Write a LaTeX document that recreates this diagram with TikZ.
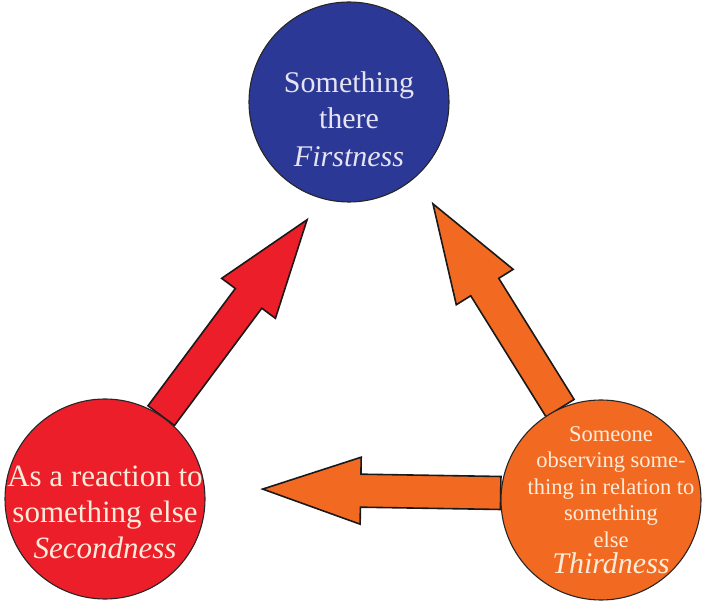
\documentclass[tikz,border=0pt]{standalone}
\usepackage{fontspec}
\setmainfont{Liberation Serif}
\usetikzlibrary{calc,backgrounds}
\definecolor{firstblue}{RGB}{43,56,150}
\definecolor{secondred}{RGB}{236,30,42}
\definecolor{thirdorange}{RGB}{242,106,34}
\definecolor{bluetext}{RGB}{230,228,243}
\definecolor{warmtext}{RGB}{253,236,218}
\tikzset{
  cat/.style={circle,draw=black!85,line width=1.1pt,minimum size=200pt,inner sep=0pt},
  cattext/.style={align=center,inner sep=0pt},
  fat/.style={draw=black!90,line width=1.6pt,line join=miter,
    to path={let \p1=($(\tikztotarget)!98pt!(\tikztostart)$) in
      ($(\tikztostart)!16.5pt!90:(\tikztotarget)$)
      -- ($(\p1)!16.5pt!-90:(\tikztostart)$)
      -- ($(\p1)!33.5pt!-90:(\tikztostart)$)
      -- (\tikztotarget)
      -- ($(\p1)!33.5pt!90:(\tikztostart)$)
      -- ($(\p1)!16.5pt!90:(\tikztostart)$)
      -- ($(\tikztostart)!16.5pt!-90:(\tikztotarget)$)
      -- cycle}}
}
\begin{document}
\begin{tikzpicture}[x=1pt,y=1pt]
  \useasboundingbox (0,0) rectangle (702,603);

  \node[cat,fill=firstblue] (first) at (349,501) {};
  \node[cat,fill=secondred] (second) at (105,104) {};
  \node[cat,fill=thirdorange] (third) at (601,103) {};

  \node[cattext,text=bluetext,font=\fontsize{30}{36}\selectfont,yshift=-17pt] (firsttext) at (first)
    {Something\\there\\[2pt]\textit{Firstness}};
  \node[cattext,text=warmtext,font=\fontsize{31}{36}\selectfont,yshift=-13pt] (secondtext) at (second)
    {As a reaction to\\something else\\\textit{Secondness}};
  \node[cattext,text=warmtext,font=\fontsize{22.5}{26.5}\selectfont,xshift=10pt] (thirdtext) at (third)
    {Someone\\observing some-\\thing in relation to\\something\\else\\{\fontsize{30}{30}\selectfont\itshape Thirdness}};

  \coordinate (tipsecond) at ($(first)+(250.4:125)$);
  \coordinate (tipthird) at ($(first)+(309.5:132)$);
  \coordinate (tipleft) at ($(second)+(3.6:158)$);

  \begin{scope}[on background layer]
    \draw[fat,fill=secondred] (second.56) to (tipsecond);
    \draw[fat,fill=thirdorange] (third.114) to (tipthird);
    \draw[fat,fill=thirdorange] (third.176) to (tipleft);
  \end{scope}
\end{tikzpicture}
\end{document}
